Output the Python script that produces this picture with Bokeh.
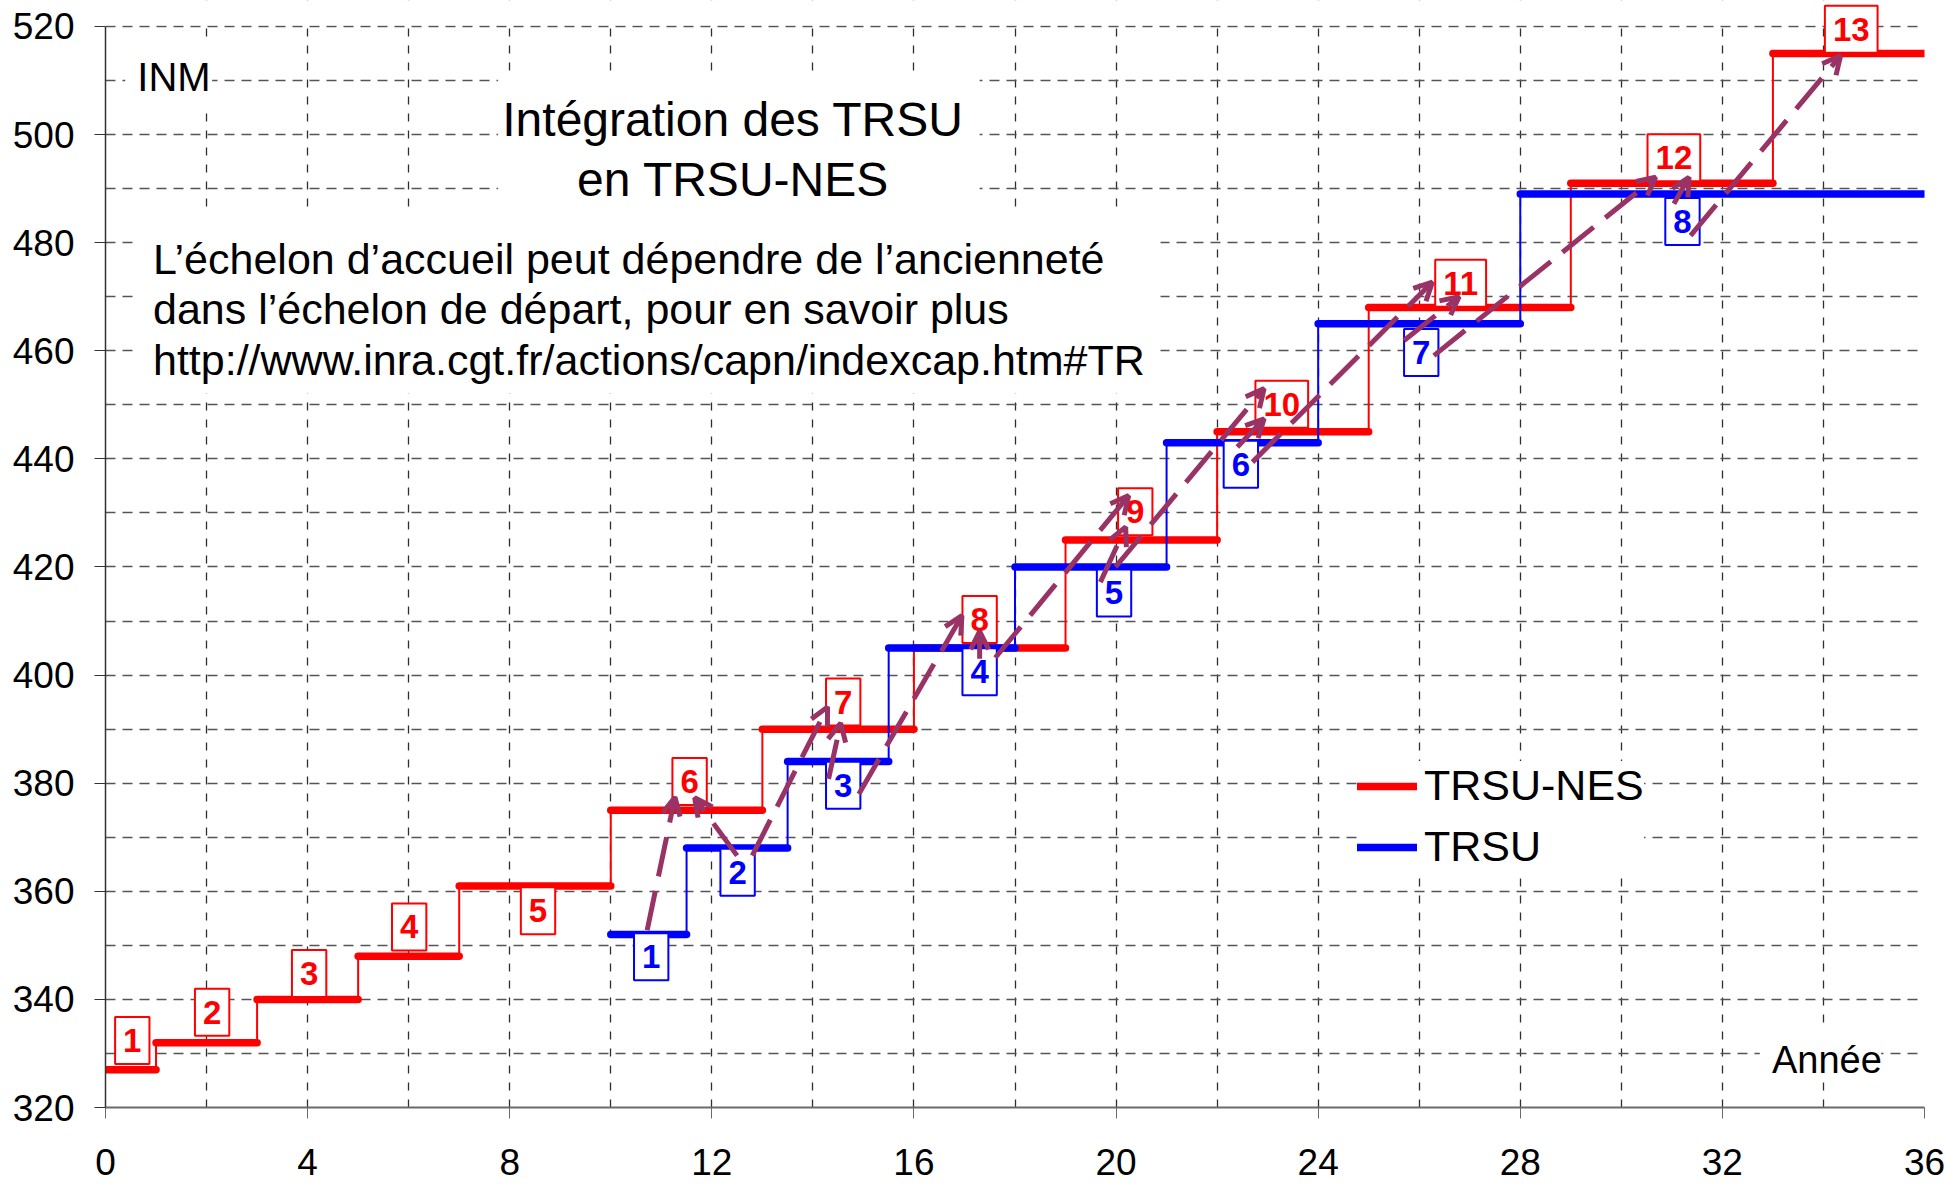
from bokeh.plotting import figure
from bokeh.models import (ColumnDataSource, FixedTicker, Label, BoxAnnotation,
                          Arrow, OpenHead, Legend, LegendItem, Range1d)
from bokeh.embed import file_html
from bokeh.resources import INLINE

FONT = "Liberation Sans"
RED = "#FF0000"
BLUE = "#0000FF"
PLUM = "#993366"

# ---------------- data ----------------
# TRSU-NES (new grid): echelon start / end year and INM
nes_start = [0, 1, 3, 5, 7, 10, 13, 16, 19, 22, 25, 29, 33]
nes_end = [1, 3, 5, 7, 10, 13, 16, 19, 22, 25, 29, 33, 36]
nes_inm = [327, 332, 340, 348, 361, 375, 390, 405, 425, 445, 468, 491, 515]

# TRSU (old grid)
trsu_start = [10, 11.5, 13.5, 15.5, 18, 21, 24, 28]
trsu_end = [11.5, 13.5, 15.5, 18, 21, 24, 28, 36]
trsu_inm = [352, 368, 384, 405, 420, 443, 465, 489]

# echelon number labels (anchor in data units)
nes_lab_x = [0.53, 2.11, 4.03, 6.01, 8.56, 11.56, 14.60, 17.30, 20.38, 23.28, 26.82, 31.04, 34.55]
nes_lab_y = [332.4, 337.6, 344.8, 353.4, 356.4, 380.3, 395.0, 410.3, 430.2, 450.1, 472.5, 495.7, 519.5]
trsu_lab_x = [10.80, 12.51, 14.60, 17.30, 19.96, 22.47, 26.04, 31.21]
trsu_lab_y = [347.9, 363.5, 379.6, 400.6, 415.2, 439.0, 459.7, 483.9]

# reclassification arrows (TRSU echelon -> TRSU-NES echelon)
arr_x0 = [10.72, 12.50, 12.80, 14.31, 14.91, 17.30, 17.61, 19.69, 19.99, 22.40, 22.70, 25.70, 26.29, 31.04, 31.37]
arr_y0 = [352.8, 366.6, 366.6, 380.8, 378.0, 403.0, 403.2, 417.2, 420.0, 442.2, 439.4, 461.9, 459.1, 487.2, 481.3]
arr_x1 = [11.27, 11.66, 14.29, 14.55, 16.95, 17.30, 20.25, 20.19, 22.93, 22.93, 26.26, 26.79, 30.68, 31.34, 34.34]
arr_y1 = [377.4, 377.3, 394.1, 391.1, 411.0, 408.1, 433.2, 427.4, 453.0, 447.4, 472.7, 470.0, 492.1, 492.1, 514.6]

x_ticks = list(range(0, 37, 4))
x_grid = list(range(0, 37, 2))
y_ticks = list(range(320, 521, 20))
y_grid = list(range(320, 521, 10))

X0, X1, Y0, Y1 = 0, 36, 320, 520
Y_TOP = 524.8   # a little head-room above the axis so the top label box is not clipped

# ---------------- figure ----------------
p = figure(width=1945, height=1186, output_backend="svg", toolbar_location=None,
           x_range=Range1d(X0, X1), y_range=Range1d(Y0, Y_TOP),
           min_border_left=105, min_border_right=21, min_border_top=0,
           min_border_bottom=79)
p.outline_line_color = None
p.background_fill_color = "white"
p.border_fill_color = "white"

p.xaxis.ticker = FixedTicker(ticks=x_ticks, minor_ticks=[])
p.yaxis.ticker = FixedTicker(ticks=y_ticks, minor_ticks=[])
p.yaxis.bounds = (Y0, Y1)
p.xgrid.ticker = FixedTicker(ticks=x_grid)
p.ygrid.ticker = FixedTicker(ticks=y_grid)

p.xgrid.grid_line_color = "#2e2e2e"
p.xgrid.grid_line_dash = "8 9"
p.xgrid.grid_line_width = 1.3
p.ygrid.grid_line_color = "#555555"
p.ygrid.grid_line_dash = "10 7"
p.ygrid.grid_line_width = 1.4

for ax in (p.xaxis, p.yaxis):
    ax.major_tick_out = 11
    ax.major_tick_in = 0
    ax.minor_tick_out = 0
    ax.minor_tick_in = 0
    ax.major_label_text_font = FONT
    ax.major_label_text_font_size = "37px"
    ax.major_label_text_color = "black"
p.yaxis.major_label_standoff = 20
p.xaxis.major_label_standoff = 30
p.yaxis.axis_line_color = "#333333"
p.yaxis.major_tick_line_color = "#333333"
p.yaxis.axis_line_width = 1.5
p.xaxis.axis_line_color = "#6a6a6a"
p.xaxis.major_tick_line_color = "#6a6a6a"
p.xaxis.axis_line_width = 2

# hide the vertical grid lines in the head-room above 520
p.add_layout(BoxAnnotation(left=X0, right=X1, bottom=Y1 + 0.2, top=Y_TOP,
                           fill_color="white", fill_alpha=1, line_color=None))

# ---------------- step lines ----------------
r_nes = p.segment(x0=nes_start, y0=nes_inm, x1=nes_end, y1=nes_inm,
                  line_color=RED, line_width=7.5, line_cap="round")
p.segment(x0=nes_start[1:], y0=nes_inm[:-1], x1=nes_start[1:], y1=nes_inm[1:],
          line_color=RED, line_width=2)

r_trsu = p.segment(x0=trsu_start, y0=trsu_inm, x1=trsu_end, y1=trsu_inm,
                   line_color=BLUE, line_width=7.5, line_cap="round")
p.segment(x0=trsu_start[1:], y0=trsu_inm[:-1], x1=trsu_start[1:], y1=trsu_inm[1:],
          line_color=BLUE, line_width=2)

# ---------------- white text boxes ----------------
for (l, r, b, t) in [(0.39, 2.11, 504.5, 516.9), (7.77, 17.30, 485.4, 510.56),
                     (0.61, 20.88, 452.1, 485.4), (32.74, 35.14, 325.0, 334.8)]:
    p.add_layout(BoxAnnotation(left=l, right=r, bottom=b, top=t,
                               fill_color="white", fill_alpha=1, line_color=None))

DY = 2.4  # baseline correction for alphabetic text
p.add_layout(Label(x=0.63, y=508.16 + DY, text="INM", text_font=FONT, text_font_size="40px",
                   text_baseline="alphabetic", text_align="left", text_color="black"))
for txt, yy in [("Intégration des TRSU", 500.39), ("en TRSU-NES", 489.29)]:
    p.add_layout(Label(x=12.42, y=yy + DY, text=txt, text_font=FONT, text_font_size="48px",
                       text_baseline="alphabetic", text_align="center", text_color="black"))
for txt, yy in [("L’échelon d’accueil peut dépendre de l’ancienneté", 474.49),
                ("dans l’échelon de départ, pour en savoir plus", 465.24),
                ("http://www.inra.cgt.fr/actions/capn/indexcap.htm#TR", 455.80)]:
    p.add_layout(Label(x=0.94, y=yy + DY, text=txt, text_font=FONT, text_font_size="43px",
                       text_baseline="alphabetic", text_align="left", text_color="black"))
p.add_layout(Label(x=32.98, y=326.47 + DY, text="Année", text_font=FONT, text_font_size="38px",
                   text_baseline="alphabetic", text_align="left", text_color="black"))

# ---------------- echelon number boxes ----------------
def add_boxes(xs, ys, color):
    for i, (xx, yy) in enumerate(zip(xs, ys)):
        p.add_layout(Label(x=xx, y=yy, text=str(i + 1), text_font=FONT,
                           text_font_size="33px", text_font_style="bold",
                           text_color=color, text_align="center", text_baseline="middle",
                           background_fill_color="white", background_fill_alpha=1,
                           border_line_color=color, border_line_width=2,
                           padding=dict(left=8, right=8, top=12, bottom=12)))

add_boxes(nes_lab_x, nes_lab_y, RED)
add_boxes(trsu_lab_x, trsu_lab_y, BLUE)

# ---------------- arrows ----------------
asrc = ColumnDataSource(dict(x0=arr_x0, y0=arr_y0, x1=arr_x1, y1=arr_y1))
p.add_layout(Arrow(end=OpenHead(size=18, line_color=PLUM, line_width=5),
                   source=asrc, x_start="x0", y_start="y0", x_end="x1", y_end="y1",
                   line_color=PLUM, line_width=5, line_dash="40 15"))

# ---------------- legend ----------------
legend = Legend(items=[LegendItem(label="TRSU-NES", renderers=[r_nes]),
                       LegendItem(label="TRSU", renderers=[r_trsu])],
                location=(1252, 236), margin=0, padding=17, spacing=12,
                glyph_width=60, glyph_height=48, label_height=48, label_standoff=7,
                label_text_font=FONT, label_text_font_size="43px",
                label_text_color="black", border_line_color=None,
                background_fill_color="white", background_fill_alpha=1)
p.add_layout(legend)

open("out.html", "w").write(file_html(p, INLINE))
